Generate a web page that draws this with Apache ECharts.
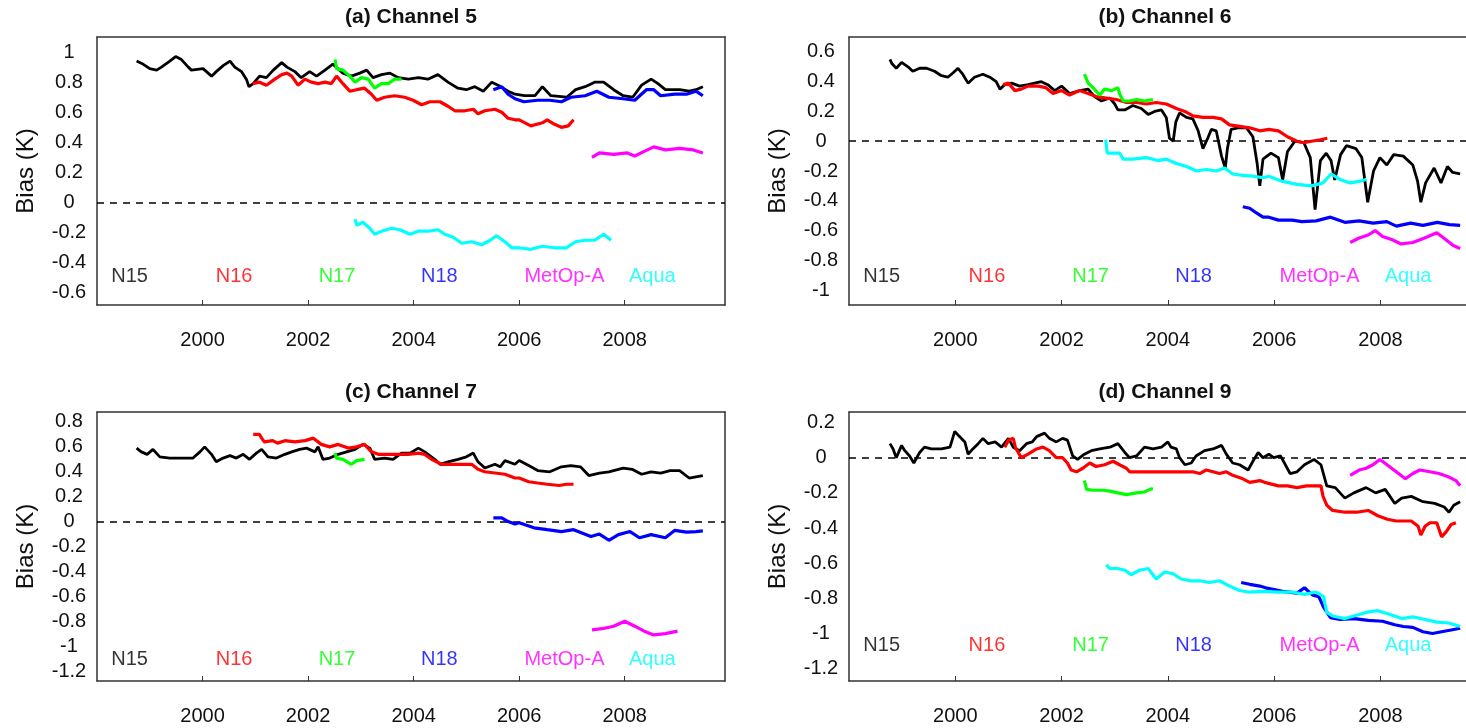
<!DOCTYPE html>
<html><head><meta charset="utf-8">
<script src="https://cdn.jsdelivr.net/npm/echarts@6/dist/echarts.min.js"></script>
<style>html,body{margin:0;padding:0;background:#fff}#c{width:1466px;height:728px}</style>
</head><body><div id="c"></div>
<script>
// ---------------- data ----------------
const satNames = ['N15', 'N16', 'N17', 'N18', 'MetOp-A', 'Aqua'];
const xTicks = [2000, 2002, 2004, 2006, 2008];
const ch5Ticks = [-0.6, -0.4, -0.2, 0, 0.2, 0.4, 0.6, 0.8, 1];
const ch6Ticks = [-1, -0.8, -0.6, -0.4, -0.2, 0, 0.2, 0.4, 0.6];
const ch7Ticks = [-1.2, -1, -0.8, -0.6, -0.4, -0.2, 0, 0.2, 0.4, 0.6, 0.8];
const ch9Ticks = [-1.2, -1, -0.8, -0.6, -0.4, -0.2, 0, 0.2];

// Channel 5
const ch5_N15 = [[1998.75,0.94],[1998.87,0.92],[1999.0,0.89],[1999.13,0.88],[1999.22,0.9],[1999.38,0.94],[1999.49,0.97],[1999.6,0.95],[1999.73,0.9],[1999.79,0.88],[2000.01,0.89],[2000.17,0.84],[2000.26,0.87],[2000.39,0.91],[2000.52,0.94],[2000.61,0.9],[2000.74,0.87],[2000.83,0.82],[2000.88,0.77],[2000.96,0.79],[2001.08,0.84],[2001.21,0.83],[2001.34,0.88],[2001.5,0.93],[2001.6,0.9],[2001.75,0.87],[2001.87,0.83],[2002.03,0.87],[2002.16,0.84],[2002.32,0.88],[2002.47,0.92],[2002.66,0.86],[2002.82,0.84],[2002.98,0.86],[2003.11,0.88],[2003.23,0.83],[2003.39,0.85],[2003.55,0.86],[2003.71,0.83],[2003.9,0.82],[2004.09,0.83],[2004.27,0.82],[2004.46,0.85],[2004.65,0.8],[2004.84,0.76],[2005.0,0.75],[2005.16,0.77],[2005.32,0.74],[2005.48,0.8],[2005.6,0.78],[2005.79,0.74],[2005.92,0.72],[2006.1,0.71],[2006.3,0.71],[2006.44,0.77],[2006.6,0.71],[2006.9,0.7],[2007.07,0.75],[2007.25,0.77],[2007.43,0.8],[2007.6,0.8],[2007.79,0.75],[2007.97,0.71],[2008.15,0.7],[2008.32,0.78],[2008.5,0.82],[2008.63,0.79],[2008.77,0.75],[2009.04,0.75],[2009.22,0.74],[2009.35,0.75],[2009.48,0.77]];
const ch5_N16 = [[2000.95,0.79],[2001.08,0.8],[2001.21,0.78],[2001.37,0.82],[2001.5,0.85],[2001.6,0.86],[2001.69,0.84],[2001.81,0.78],[2001.94,0.82],[2002.06,0.8],[2002.19,0.79],[2002.32,0.8],[2002.44,0.79],[2002.54,0.84],[2002.66,0.79],[2002.79,0.74],[2002.92,0.75],[2003.07,0.76],[2003.2,0.72],[2003.3,0.68],[2003.45,0.7],[2003.64,0.71],[2003.83,0.7],[2003.99,0.68],[2004.15,0.65],[2004.31,0.67],[2004.5,0.67],[2004.65,0.64],[2004.78,0.61],[2004.97,0.61],[2005.13,0.62],[2005.22,0.59],[2005.35,0.61],[2005.54,0.62],[2005.67,0.6],[2005.79,0.56],[2005.92,0.55],[2006.0,0.55],[2006.22,0.51],[2006.44,0.53],[2006.53,0.55],[2006.67,0.52],[2006.8,0.5],[2006.93,0.51],[2007.03,0.55]];
const ch5_N17 = [[2002.51,0.95],[2002.54,0.89],[2002.66,0.88],[2002.79,0.84],[2002.89,0.8],[2003.01,0.83],[2003.14,0.82],[2003.26,0.76],[2003.39,0.79],[2003.52,0.79],[2003.64,0.82],[2003.77,0.82]];
const ch5_N18 = [[2005.51,0.75],[2005.67,0.77],[2005.79,0.72],[2005.92,0.69],[2006.09,0.67],[2006.35,0.68],[2006.58,0.68],[2006.8,0.67],[2006.98,0.7],[2007.25,0.71],[2007.47,0.74],[2007.7,0.7],[2007.97,0.69],[2008.19,0.68],[2008.41,0.75],[2008.55,0.75],[2008.68,0.71],[2008.95,0.72],[2009.17,0.72],[2009.35,0.74],[2009.48,0.71]];
const ch5_MetOp = [[2007.38,0.3],[2007.52,0.33],[2007.79,0.32],[2008.05,0.33],[2008.19,0.31],[2008.37,0.34],[2008.55,0.37],[2008.77,0.35],[2009.04,0.36],[2009.3,0.35],[2009.48,0.33]];
const ch5_Aqua = [[2002.89,-0.11],[2002.92,-0.15],[2003.04,-0.13],[2003.17,-0.17],[2003.26,-0.21],[2003.39,-0.19],[2003.58,-0.17],[2003.74,-0.18],[2003.93,-0.21],[2004.09,-0.19],[2004.27,-0.19],[2004.46,-0.18],[2004.59,-0.21],[2004.75,-0.23],[2004.91,-0.27],[2005.1,-0.26],[2005.29,-0.28],[2005.45,-0.25],[2005.57,-0.22],[2005.73,-0.26],[2005.86,-0.3],[2006.0,-0.3],[2006.22,-0.31],[2006.44,-0.29],[2006.67,-0.3],[2006.89,-0.3],[2007.07,-0.26],[2007.25,-0.25],[2007.43,-0.25],[2007.6,-0.21],[2007.74,-0.25]];

// Channel 6
const ch6_N15 = [[1998.77,0.55],[1998.81,0.52],[1998.89,0.49],[1998.99,0.53],[1999.11,0.5],[1999.2,0.47],[1999.33,0.49],[1999.46,0.49],[1999.61,0.47],[1999.74,0.44],[1999.86,0.43],[1999.96,0.46],[2000.05,0.49],[2000.14,0.45],[2000.24,0.39],[2000.36,0.43],[2000.52,0.45],[2000.65,0.43],[2000.77,0.4],[2000.84,0.35],[2000.93,0.38],[2001.06,0.39],[2001.21,0.37],[2001.37,0.38],[2001.49,0.39],[2001.62,0.4],[2001.74,0.38],[2001.87,0.34],[2002.0,0.37],[2002.15,0.32],[2002.34,0.34],[2002.5,0.35],[2002.62,0.3],[2002.75,0.27],[2002.91,0.29],[2003.0,0.25],[2003.06,0.21],[2003.19,0.21],[2003.34,0.24],[2003.5,0.22],[2003.63,0.18],[2003.75,0.2],[2003.88,0.21],[2003.97,0.16],[2004.03,0.02],[2004.1,0.0],[2004.15,0.13],[2004.22,0.19],[2004.35,0.16],[2004.47,0.15],[2004.57,0.07],[2004.66,-0.05],[2004.75,0.02],[2004.82,0.08],[2004.91,0.07],[2005.01,-0.1],[2005.08,-0.18],[2005.12,-0.05],[2005.19,0.08],[2005.32,0.09],[2005.48,0.09],[2005.6,0.03],[2005.68,-0.15],[2005.73,-0.3],[2005.79,-0.12],[2005.94,-0.08],[2006.08,-0.11],[2006.16,-0.26],[2006.25,-0.07],[2006.39,0.0],[2006.56,-0.01],[2006.68,-0.11],[2006.77,-0.46],[2006.87,-0.13],[2006.98,-0.08],[2007.07,-0.13],[2007.14,-0.26],[2007.25,-0.09],[2007.36,-0.03],[2007.54,-0.05],[2007.65,-0.11],[2007.76,-0.41],[2007.87,-0.2],[2007.99,-0.11],[2008.12,-0.16],[2008.25,-0.09],[2008.43,-0.1],[2008.61,-0.16],[2008.7,-0.27],[2008.76,-0.41],[2008.85,-0.28],[2009.01,-0.18],[2009.14,-0.28],[2009.26,-0.17],[2009.36,-0.21],[2009.5,-0.22]];
const ch6_N16 = [[2000.9,0.38],[2001.0,0.39],[2001.12,0.34],[2001.24,0.35],[2001.37,0.37],[2001.56,0.37],[2001.7,0.36],[2001.84,0.32],[2002.0,0.34],[2002.15,0.31],[2002.34,0.34],[2002.5,0.32],[2002.65,0.3],[2002.84,0.29],[2003.03,0.28],[2003.22,0.26],[2003.41,0.26],[2003.6,0.25],[2003.78,0.26],[2003.97,0.25],[2004.16,0.22],[2004.32,0.2],[2004.47,0.17],[2004.66,0.16],[2004.85,0.16],[2005.01,0.15],[2005.16,0.11],[2005.35,0.1],[2005.54,0.09],[2005.73,0.07],[2005.9,0.08],[2006.08,0.07],[2006.25,0.03],[2006.43,0.0],[2006.56,-0.01],[2006.7,0.0],[2006.87,0.01],[2007.0,0.02]];
const ch6_N17 = [[2002.43,0.45],[2002.5,0.39],[2002.59,0.36],[2002.72,0.31],[2002.81,0.35],[2002.94,0.34],[2003.06,0.36],[2003.1,0.31],[2003.16,0.27],[2003.28,0.27],[2003.41,0.28],[2003.56,0.27],[2003.72,0.28]];
const ch6_N18 = [[2005.41,-0.44],[2005.54,-0.45],[2005.66,-0.48],[2005.79,-0.51],[2005.9,-0.51],[2006.08,-0.53],[2006.34,-0.53],[2006.52,-0.54],[2006.79,-0.535],[2007.06,-0.51],[2007.33,-0.545],[2007.6,-0.535],[2007.86,-0.55],[2008.12,-0.54],[2008.3,-0.57],[2008.57,-0.55],[2008.8,-0.565],[2009.07,-0.545],[2009.3,-0.56],[2009.5,-0.565]];
const ch6_MetOp = [[2007.43,-0.68],[2007.6,-0.65],[2007.77,-0.63],[2007.9,-0.6],[2008.04,-0.64],[2008.21,-0.66],[2008.39,-0.69],[2008.61,-0.68],[2008.83,-0.65],[2009.06,-0.615],[2009.19,-0.65],[2009.37,-0.7],[2009.5,-0.72]];
const ch6_Aqua = [[2002.83,0.01],[2002.86,-0.08],[2003.09,-0.08],[2003.16,-0.12],[2003.34,-0.12],[2003.6,-0.11],[2003.81,-0.13],[2003.97,-0.12],[2004.16,-0.15],[2004.35,-0.17],[2004.54,-0.2],[2004.72,-0.19],[2004.91,-0.2],[2005.07,-0.18],[2005.22,-0.22],[2005.41,-0.23],[2005.6,-0.235],[2005.79,-0.245],[2005.9,-0.235],[2006.16,-0.27],[2006.43,-0.29],[2006.7,-0.3],[2006.92,-0.28],[2007.07,-0.22],[2007.23,-0.255],[2007.43,-0.28],[2007.6,-0.27],[2007.74,-0.255]];

// Channel 7
const ch7_N15 = [[1998.75,0.59],[1998.84,0.56],[1998.95,0.54],[1999.06,0.58],[1999.19,0.52],[1999.38,0.51],[1999.57,0.51],[1999.82,0.51],[1999.95,0.56],[2000.04,0.6],[2000.17,0.54],[2000.26,0.48],[2000.39,0.51],[2000.52,0.53],[2000.64,0.51],[2000.77,0.54],[2000.89,0.5],[2001.02,0.55],[2001.12,0.58],[2001.24,0.52],[2001.4,0.51],[2001.56,0.54],[2001.69,0.56],[2001.84,0.58],[2001.97,0.59],[2002.13,0.56],[2002.19,0.6],[2002.28,0.5],[2002.41,0.51],[2002.57,0.54],[2002.73,0.56],[2002.89,0.58],[2003.04,0.62],[2003.17,0.59],[2003.26,0.5],[2003.45,0.51],[2003.61,0.5],[2003.77,0.55],[2003.93,0.55],[2004.09,0.59],[2004.21,0.56],[2004.4,0.5],[2004.5,0.46],[2004.65,0.48],[2004.84,0.5],[2005.0,0.52],[2005.13,0.55],[2005.22,0.48],[2005.35,0.43],[2005.54,0.46],[2005.64,0.44],[2005.73,0.49],[2005.92,0.46],[2006.0,0.49],[2006.18,0.45],[2006.35,0.41],[2006.58,0.4],[2006.8,0.44],[2006.98,0.45],[2007.16,0.44],[2007.32,0.37],[2007.52,0.39],[2007.7,0.4],[2007.97,0.43],[2008.14,0.42],[2008.32,0.38],[2008.5,0.4],[2008.68,0.39],[2008.86,0.41],[2009.04,0.41],[2009.22,0.35],[2009.35,0.36],[2009.48,0.37]];
const ch7_N16 = [[2000.96,0.7],[2001.08,0.7],[2001.12,0.67],[2001.17,0.64],[2001.33,0.65],[2001.42,0.63],[2001.56,0.65],[2001.75,0.64],[2001.94,0.65],[2002.1,0.67],[2002.25,0.62],[2002.41,0.6],[2002.57,0.62],[2002.76,0.59],[2002.92,0.6],[2003.07,0.62],[2003.2,0.56],[2003.33,0.54],[2003.52,0.54],[2003.71,0.54],[2003.9,0.54],[2004.09,0.55],[2004.21,0.54],[2004.34,0.5],[2004.53,0.46],[2004.72,0.46],[2004.9,0.46],[2005.1,0.46],[2005.22,0.42],[2005.35,0.4],[2005.54,0.39],[2005.73,0.38],[2005.92,0.35],[2006.0,0.35],[2006.18,0.32],[2006.35,0.31],[2006.53,0.3],[2006.76,0.29],[2006.89,0.3],[2007.03,0.3]];
const ch7_N17 = [[2002.51,0.55],[2002.54,0.51],[2002.66,0.5],[2002.82,0.46],[2002.92,0.49],[2003.07,0.5]];
const ch7_N18 = [[2005.51,0.03],[2005.67,0.03],[2005.79,0.0],[2005.92,-0.02],[2006.0,-0.01],[2006.28,-0.05],[2006.53,-0.065],[2006.8,-0.08],[2007.03,-0.065],[2007.36,-0.12],[2007.52,-0.1],[2007.7,-0.15],[2007.88,-0.105],[2008.1,-0.08],[2008.28,-0.13],[2008.5,-0.105],[2008.77,-0.13],[2008.95,-0.07],[2009.17,-0.085],[2009.35,-0.08],[2009.48,-0.075]];
const ch7_MetOp = [[2007.38,-0.87],[2007.57,-0.86],[2007.79,-0.84],[2008.0,-0.8],[2008.19,-0.84],[2008.37,-0.88],[2008.55,-0.91],[2008.77,-0.9],[2009.0,-0.88]];
const ch7_Aqua = [];

// Channel 9
const ch9_N15 = [[1998.77,0.08],[1998.83,0.05],[1998.89,0.0],[1998.99,0.07],[1999.05,0.04],[1999.14,0.01],[1999.22,-0.03],[1999.33,0.03],[1999.42,0.06],[1999.55,0.05],[1999.74,0.05],[1999.9,0.06],[1999.99,0.15],[2000.08,0.12],[2000.18,0.09],[2000.24,0.02],[2000.33,0.05],[2000.43,0.08],[2000.52,0.11],[2000.62,0.08],[2000.75,0.09],[2000.87,0.06],[2001.0,0.11],[2001.09,0.06],[2001.21,0.04],[2001.34,0.08],[2001.45,0.09],[2001.53,0.12],[2001.68,0.14],[2001.77,0.11],[2001.9,0.09],[2002.02,0.11],[2002.11,0.1],[2002.21,0.01],[2002.3,-0.01],[2002.43,0.02],[2002.56,0.04],[2002.72,0.05],[2002.91,0.06],[2003.06,0.08],[2003.19,0.03],[2003.28,0.0],[2003.41,0.01],[2003.56,0.06],[2003.72,0.05],[2003.88,0.06],[2004.0,0.09],[2004.06,0.06],[2004.16,0.05],[2004.22,0.0],[2004.32,-0.04],[2004.44,-0.03],[2004.53,0.01],[2004.69,0.04],[2004.85,0.05],[2005.01,0.07],[2005.1,0.02],[2005.22,-0.03],[2005.35,-0.04],[2005.51,-0.07],[2005.6,-0.02],[2005.7,0.03],[2005.79,0.0],[2005.9,0.02],[2005.99,0.0],[2006.12,0.01],[2006.3,-0.09],[2006.43,-0.08],[2006.57,-0.04],[2006.75,-0.01],[2006.88,-0.04],[2006.99,-0.16],[2007.15,-0.17],[2007.33,-0.23],[2007.5,-0.2],[2007.73,-0.17],[2007.91,-0.2],[2008.09,-0.18],[2008.27,-0.26],[2008.4,-0.23],[2008.58,-0.22],[2008.8,-0.25],[2009.02,-0.26],[2009.2,-0.28],[2009.29,-0.31],[2009.38,-0.27],[2009.5,-0.25]];
const ch9_N16 = [[2000.93,0.06],[2001.0,0.1],[2001.09,0.11],[2001.13,0.06],[2001.24,0.0],[2001.37,0.02],[2001.53,0.05],[2001.65,0.06],[2001.77,0.04],[2001.9,0.0],[2002.02,0.0],[2002.11,-0.03],[2002.18,-0.07],[2002.28,-0.08],[2002.4,-0.06],[2002.53,-0.03],[2002.65,-0.05],[2002.81,-0.04],[2002.97,-0.02],[2003.09,-0.04],[2003.22,-0.06],[2003.28,-0.08],[2004.47,-0.08],[2004.6,-0.09],[2004.72,-0.07],[2004.85,-0.08],[2004.97,-0.09],[2005.1,-0.08],[2005.22,-0.1],[2005.41,-0.12],[2005.54,-0.14],[2005.73,-0.13],[2005.82,-0.14],[2006.08,-0.16],[2006.25,-0.16],[2006.43,-0.17],[2006.61,-0.16],[2006.88,-0.16],[2006.92,-0.22],[2006.99,-0.27],[2007.1,-0.3],[2007.33,-0.31],[2007.55,-0.31],[2007.77,-0.3],[2007.95,-0.33],[2008.13,-0.35],[2008.3,-0.36],[2008.58,-0.36],[2008.71,-0.39],[2008.76,-0.44],[2008.84,-0.39],[2008.93,-0.37],[2009.06,-0.37],[2009.15,-0.45],[2009.24,-0.42],[2009.33,-0.38],[2009.42,-0.37]];
const ch9_N17 = [[2002.43,-0.13],[2002.47,-0.18],[2002.59,-0.185],[2002.78,-0.185],[2002.91,-0.19],[2003.06,-0.2],[2003.22,-0.21],[2003.41,-0.2],[2003.56,-0.195],[2003.66,-0.18],[2003.72,-0.175]];
const ch9_N18 = [[2005.38,-0.71],[2005.54,-0.72],[2005.73,-0.73],[2005.84,-0.74],[2006.16,-0.76],[2006.43,-0.77],[2006.57,-0.74],[2006.72,-0.78],[2006.84,-0.79],[2006.93,-0.85],[2007.06,-0.91],[2007.24,-0.92],[2007.5,-0.915],[2007.77,-0.925],[2008.04,-0.93],[2008.27,-0.95],[2008.43,-0.96],[2008.61,-0.965],[2008.8,-0.99],[2008.98,-1.0],[2009.15,-0.99],[2009.33,-0.98],[2009.5,-0.97]];
const ch9_MetOp = [[2007.43,-0.1],[2007.6,-0.07],[2007.73,-0.06],[2007.86,-0.04],[2007.99,-0.01],[2008.08,-0.03],[2008.21,-0.06],[2008.34,-0.09],[2008.47,-0.12],[2008.61,-0.09],[2008.74,-0.07],[2008.93,-0.08],[2009.1,-0.09],[2009.29,-0.11],[2009.42,-0.13],[2009.5,-0.16]];
const ch9_Aqua = [[2002.84,-0.61],[2002.91,-0.63],[2003.06,-0.63],[2003.19,-0.64],[2003.31,-0.665],[2003.47,-0.64],[2003.63,-0.63],[2003.78,-0.69],[2003.94,-0.65],[2004.1,-0.66],[2004.25,-0.69],[2004.41,-0.7],[2004.6,-0.7],[2004.78,-0.71],[2004.97,-0.7],[2005.16,-0.73],[2005.35,-0.755],[2005.54,-0.765],[2005.79,-0.76],[2006.08,-0.764],[2006.34,-0.764],[2006.57,-0.777],[2006.79,-0.764],[2006.93,-0.79],[2006.99,-0.88],[2007.1,-0.9],[2007.33,-0.915],[2007.5,-0.9],[2007.73,-0.88],[2007.95,-0.87],[2008.17,-0.89],[2008.4,-0.915],[2008.61,-0.905],[2008.84,-0.92],[2009.06,-0.935],[2009.29,-0.94],[2009.5,-0.96]];

// ---------------- layout / style ----------------
const FONT = "'Liberation Sans', Arial, Helvetica, sans-serif";
const satColors = ['#000000', '#ff0000', '#00ff00', '#0000ff', '#ff00ff', '#00ffff'];
// right-hand panels are cut at the page edge (their right frame lies outside the picture)
const grids = [
  {left: 97, top: 37, width: 628, height: 268, xMax: 2009.9, rightFrame: true},
  {left: 849, top: 37, width: 617, height: 268, xMax: 2009.61, rightFrame: false},
  {left: 97, top: 412, width: 628, height: 269, xMax: 2009.9, rightFrame: true},
  {left: 849, top: 412, width: 617, height: 269, xMax: 2009.61, rightFrame: false}
];
const panels = [
  {title: '(a) Channel 5', data: [ch5_N15, ch5_N16, ch5_N17, ch5_N18, ch5_MetOp, ch5_Aqua], ticks: ch5Ticks, min: -0.68, max: 1.1, labelLevel: -0.49},
  {title: '(b) Channel 6', data: [ch6_N15, ch6_N16, ch6_N17, ch6_N18, ch6_MetOp, ch6_Aqua], ticks: ch6Ticks, min: -1.1, max: 0.7, labelLevel: -0.91},
  {title: '(c) Channel 7', data: [ch7_N15, ch7_N16, ch7_N17, ch7_N18, ch7_MetOp, ch7_Aqua], ticks: ch7Ticks, min: -1.28, max: 0.88, labelLevel: -1.11},
  {title: '(d) Channel 9', data: [ch9_N15, ch9_N16, ch9_N17, ch9_N18, ch9_MetOp, ch9_Aqua], ticks: ch9Ticks, min: -1.27, max: 0.26, labelLevel: -1.07}
];
const labelYears = [1998.27, 2000.25, 2002.2, 2004.14, 2006.1, 2008.08];
const X_MIN = 1998;
const FRAME = {color: '#333', width: 1.5};

const option = {
  animation: false,
  backgroundColor: '#ffffff',
  grid: grids.map(g => ({left: g.left, top: g.top, width: g.width, height: g.height, show: false, containLabel: false})),
  xAxis: [],
  yAxis: [],
  graphic: [],
  series: []
};

// main axes (index i = panel i)
panels.forEach((p, i) => {
  const g = grids[i];
  option.xAxis.push({
    type: 'value', gridIndex: i, min: X_MIN, max: g.xMax, position: 'bottom',
    axisLine: {show: true, onZero: false, lineStyle: FRAME},
    splitLine: {show: false},
    axisTick: {show: true, inside: true, length: 5, customValues: xTicks, lineStyle: {color: '#333', width: 1}},
    axisLabel: {customValues: xTicks, margin: 25, fontSize: 20, color: '#111', fontFamily: FONT, formatter: v => String(v)}
  });
  option.yAxis.push({
    type: 'value', gridIndex: i, min: p.min, max: p.max, position: 'left',
    axisLine: {show: true, onZero: false, lineStyle: FRAME},
    splitLine: {show: false},
    axisTick: {show: false},
    axisLabel: {customValues: p.ticks, align: 'center', margin: 28, fontSize: 20, color: '#111', fontFamily: FONT,
      formatter: v => String(Math.round(v * 10) / 10)}
  });
});
// frame-only axes (top edge for all, right edge only where it is inside the picture)
panels.forEach((p, i) => {
  const g = grids[i];
  option.xAxis.push({
    type: 'value', gridIndex: i, min: X_MIN, max: g.xMax, position: 'top',
    axisLine: {show: true, onZero: false, lineStyle: FRAME},
    axisTick: {show: false}, axisLabel: {show: false}, splitLine: {show: false}
  });
  if (g.rightFrame) {
    option.yAxis.push({
      type: 'value', gridIndex: i, min: p.min, max: p.max, position: 'right',
      axisLine: {show: true, onZero: false, lineStyle: FRAME},
      axisTick: {show: false}, axisLabel: {show: false}, splitLine: {show: false}
    });
  }
});

panels.forEach((p, i) => {
  const g = grids[i];
  const cx = g.rightFrame ? g.left + g.width / 2 : g.left + 316;
  option.graphic.push({
    type: 'text', x: cx, y: g.top - 20,
    style: {text: p.title, font: 'bold 21px ' + FONT, fill: '#111', textAlign: 'center', textVerticalAlign: 'middle', align: 'center', verticalAlign: 'middle'}
  });
  option.graphic.push({
    type: 'text', x: g.left - 71, y: g.top + g.height / 2, rotation: Math.PI / 2,
    style: {text: 'Bias (K)', font: '24px ' + FONT, fill: '#111', textAlign: 'center', textVerticalAlign: 'middle', align: 'center', verticalAlign: 'middle'}
  });
  p.data.forEach((d, s) => {
    const ser = {
      type: 'line', name: satNames[s], xAxisIndex: i, yAxisIndex: i, data: d,
      showSymbol: false, symbol: 'none', smooth: false,
      lineStyle: {color: satColors[s], width: s === 0 ? 2.8 : 3.2},
      z: 3 + s
    };
    if (s === 0) {
      ser.markLine = {silent: true, symbol: 'none', label: {show: false},
        lineStyle: {color: '#000', type: [7, 6], width: 1.5}, data: [{yAxis: 0}], z: 2};
    }
    option.series.push(ser);
  });
  option.series.push({
    type: 'scatter', xAxisIndex: i, yAxisIndex: i, symbolSize: 0, silent: true, z: 10,
    data: satNames.map((n, s) => ({name: n, value: [labelYears[s], p.labelLevel], label: {color: satColors[s]}})),
    label: {show: true, position: 'right', distance: 0, formatter: '{b}', fontSize: 20, fontFamily: FONT}
  });
});

const chart = echarts.init(document.getElementById('c'), null, {renderer: 'canvas'});
chart.setOption(option);
</script></body></html>
